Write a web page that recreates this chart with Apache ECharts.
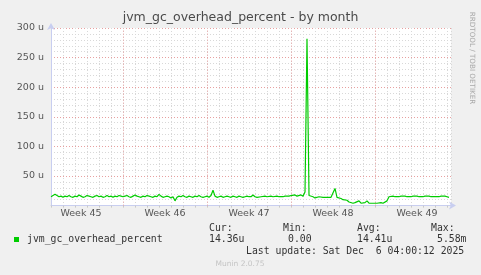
<!DOCTYPE html>
<html>
<head>
<meta charset="utf-8">
<script src="https://cdn.jsdelivr.net/npm/echarts@6/dist/echarts.min.js"></script>
<style>
html,body{margin:0;padding:0;background:#F0F0F0;}
#chart{width:481px;height:275px;}
</style>
</head>
<body>
<div id="chart"></div>
<script>
// ---- data ----
const titleText = 'jvm_gc_overhead_percent - by month';
const seriesName = 'jvm_gc_overhead_percent';
// days from plot start (Tue Nov 4 2025 00:00); one sample every 4 hours
const sampleStepDays = 1 / 6;
const rangeDays = 33.333;
// values in micro-percent (u)
const overheadValues = [
  15,17,19,17,15,16,14,16,15,17,
  15,14,16,15,18,16,14,15,17,16,
  15,14,16,17,15,16,14,15,17,15,
  16,14,16,15,17,16,15,16,17,15,
  14,16,18,16,15,14,16,15,17,16,
  15,14,16,15,19,16,14,15,16,15,
  13,15,8,14,16,15,17,15,14,16,
  15,14,16,15,17,15,14,15,16,14,
  17,26,16,14,15,16,14,15,16,15,
  14,16,15,14,16,15,14,15,16,15,
  15,18,15,14,16,15,14,16,15,15,
  16,15,14,16,15,17,15,16,15,16,
  17,16,18,16,17,18,16,23,282,17,
  14,15,13,14,15,13,14,14,13,14,
  14,13,29,14,13,12,10,9,9,6,
  4,4,5,4,8,4,4,5,8,4,
  4,4,5,4,4,5,4,4,8,15,
  15,16,15,16,15,16,15,16,15,16,
  15,16,15,16,15,16,15,16,15,16,
  15,16,15,16,15,16,15,16,15,14
];
const weekLabels = ['Week 45','Week 46','Week 47','Week 48','Week 49'];
const weekStartDays = [-1, 6, 13, 20, 27];
const yTickValues = [50, 100, 150, 200, 250, 300];
const statHeaders = ['Cur:', 'Min:', 'Avg:', 'Max:'];
const statValues = ['14.36u', '0.00', '14.41u', '5.58m'];
const lastUpdate = 'Last update: Sat Dec  6 04:00:12 2025';
const footer = 'Munin 2.0.75';
const sideText = 'RRDTOOL / TOBI OETIKER';

// ---- chart ----
const GREEN = '#00CC00';
const AXIS = '#C8CEF0';
const GRID = '#D8D8D8';
const MGRID = '#E8A0A0';
const sans = 'DejaVu Sans';

const seriesData = overheadValues.map((v, i) => [i * sampleStepDays, v]);
const weekCenters = weekStartDays.map(d => d + 3.5);
const majorX = weekStartDays.filter(d => d > 0);

const chart = echarts.init(document.getElementById('chart'), null, {renderer: 'canvas'});

const statX = [209, 283, 357, 431];
const valX = [209, 288, 357, 437];
const graphics = [
  {type:'text', left:'center', top: 11, style:{text: titleText, font: '12.5px "DejaVu Sans"', fill:'#4a4a4a'}},
  {type:'text', x: 472, y: 58, rotation: -Math.PI/2, style:{text: sideText, font:'7.2px "DejaVu Sans"', fill:'#A8A8A8', align:'center', verticalAlign:'middle'}},
  {type:'rect', shape:{x:14, y:237, width:5, height:5}, style:{fill: GREEN}},
  {type:'text', x: 27, y: 239.5, style:{text: seriesName, font:'9.8px "DejaVu Sans Mono"', fill:'#333', verticalAlign:'middle'}},
  {type:'text', x: 246, y: 251, style:{text: lastUpdate, font:'9.8px "DejaVu Sans Mono"', fill:'#333', verticalAlign:'middle'}},
  {type:'text', x: 240, y: 264, style:{text: footer, font:'7.5px "DejaVu Sans"', fill:'#C4C4C4', align:'center', verticalAlign:'middle'}}
];
statHeaders.forEach((h, k) => graphics.push({type:'text', x: statX[k], y: 228, style:{text: h, font:'9.8px "DejaVu Sans Mono"', fill:'#333', verticalAlign:'middle'}}));
statValues.forEach((h, k) => graphics.push({type:'text', x: valX[k], y: 239.5, style:{text: h, font:'9.8px "DejaVu Sans Mono"', fill:'#333', verticalAlign:'middle'}}));

chart.setOption({
  animation: false,
  backgroundColor: '#F0F0F0',
  grid: {left: 51, right: 30, top: 28, bottom: 69.4, show: true, backgroundColor: '#FFFFFF', borderWidth: 0},
  xAxis: [
    {
      type: 'value', min: 0, max: rangeDays, interval: 1,
      axisLine: {show: true, lineStyle: {color: AXIS, width: 1}, symbol: ['none', 'arrow'], symbolSize: [6, 7], symbolOffset: [0, 5]},
      axisTick: {show: true, length: 2, lineStyle: {color: '#C8C8C8'}},
      axisLabel: {show: false},
      splitLine: {show: true, showMinLine: false, lineStyle: {color: GRID, type: [1, 2], width: 1}}
    },
    {
      type: 'value', min: 0, max: rangeDays, interval: 0.5, position: 'bottom',
      axisLine: {show: false}, axisTick: {show: false}, splitLine: {show: false},
      axisLabel: {
        show: true, margin: 3, color: '#555', fontFamily: sans, fontSize: 9.5,
        showMinLabel: false, showMaxLabel: false,
        formatter: v => { const k = weekCenters.findIndex(c => Math.abs(c - v) < 1e-6); return k >= 0 ? weekLabels[k] : ''; }
      }
    }
  ],
  yAxis: [
    {
      type: 'value', min: 0, max: 300, interval: 10,
      axisLine: {show: true, lineStyle: {color: AXIS, width: 1}, symbol: ['none', 'arrow'], symbolSize: [6, 7], symbolOffset: [0, 5]},
      axisTick: {show: false},
      axisLabel: {
        show: true, margin: 7, color: '#555', fontFamily: sans, fontSize: 9.5,
        formatter: v => yTickValues.indexOf(v) >= 0 ? v + ' u' : ''
      },
      splitLine: {show: true, showMinLine: false, lineStyle: {color: GRID, type: [1, 2], width: 1}}
    },
    {
      type: 'value', min: 0, max: 300, interval: 50, position: 'left',
      axisLine: {show: false}, axisTick: {show: false}, axisLabel: {show: false},
      splitLine: {show: true, showMinLine: false, lineStyle: {color: MGRID, type: [1, 2], width: 1}}
    }
  ],
  series: [{
    name: seriesName, type: 'line', xAxisIndex: 0, yAxisIndex: 0,
    data: seriesData, showSymbol: false, symbol: 'none', z: 5,
    lineStyle: {color: GREEN, width: 1.2},
    markLine: {
      silent: true, symbol: 'none', label: {show: false}, animation: false,
      lineStyle: {color: MGRID, type: [1, 2], width: 1},
      data: majorX.map(d => ({xAxis: d}))
    }
  }],
  graphic: graphics
});
</script>
</body>
</html>
